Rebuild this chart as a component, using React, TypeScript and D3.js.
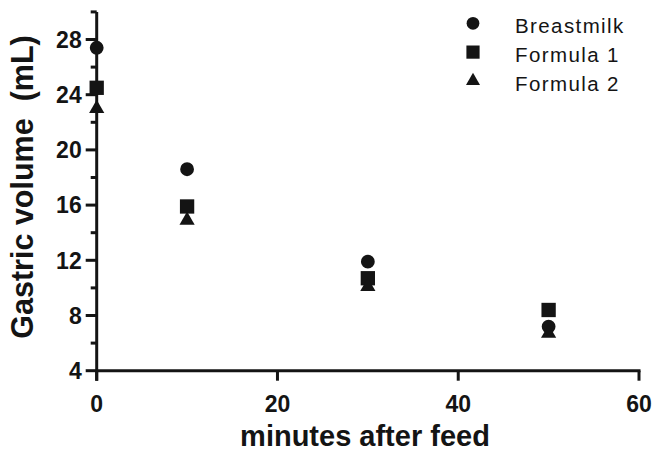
import React from "react";
import * as d3 from "d3";

// minutes after feed
const times = [0, 10, 30, 50];
const breastmilk = [27.4, 18.6, 11.9, 7.2];
const formula1 = [24.5, 15.9, 10.7, 8.4];
const formula2 = [23.0, 14.9, 10.1, 6.7];

const xTicks = [0, 20, 40, 60];
const yTicks = [4, 8, 12, 16, 20, 24, 28];
const yMinorTicks = [6, 10, 14, 18, 22, 26, 30];

const series = [
  { name: "Breastmilk", values: breastmilk, symbol: d3.symbolCircle, size: 150 },
  { name: "Formula 1", values: formula1, symbol: d3.symbolSquare, size: 205 },
  { name: "Formula 2", values: formula2, symbol: d3.symbolTriangle, size: 100 },
];

const width = 654;
const height = 452;
const ink = "#141414";
const font = "'Liberation Sans', Arial, Helvetica, sans-serif";

const App: React.FC = () => {
  const x = d3.scaleLinear().domain([0, 60]).range([96.7, 639]);
  const y = d3.scaleLinear().domain([4, 30]).range([370.7, 11.9]);

  const x0 = x(0);
  const y0 = y(4);

  return (
    <svg
      width={width}
      height={height}
      style={{ position: "absolute", left: 0, top: 0, background: "white" }}
    >
      {/* y axis */}
      <line x1={x0} x2={x0} y1={y(30)} y2={y0 + 10} stroke={ink} strokeWidth={3} />
      {yTicks.map((t) => (
        <g key={`yt-${t}`}>
          <line x1={x0 - 11} x2={x0} y1={y(t)} y2={y(t)} stroke={ink} strokeWidth={3} />
          <text
            x={x0 - 15}
            y={y(t)}
            dy="0.36em"
            textAnchor="end"
            fontFamily={font}
            fontWeight="bold"
            fontSize={23}
            fill={ink}
          >
            {t}
          </text>
        </g>
      ))}
      {yMinorTicks.map((t) => (
        <line
          key={`ym-${t}`}
          x1={x0 - 6}
          x2={x0}
          y1={y(t)}
          y2={y(t)}
          stroke={ink}
          strokeWidth={3}
        />
      ))}

      {/* x axis */}
      <line x1={x0} x2={x(60) + 1.5} y1={y0} y2={y0} stroke={ink} strokeWidth={3} />
      {xTicks.map((t) => (
        <g key={`xt-${t}`}>
          <line x1={x(t)} x2={x(t)} y1={y0} y2={y0 + 10} stroke={ink} strokeWidth={3} />
          <text
            x={x(t)}
            y={411.7}
            textAnchor="middle"
            fontFamily={font}
            fontWeight="bold"
            fontSize={23}
            fill={ink}
          >
            {t}
          </text>
        </g>
      ))}

      {/* axis titles */}
      <text
        x={365}
        y={446}
        textAnchor="middle"
        fontFamily={font}
        fontWeight="bold"
        fontSize={29}
        fill={ink}
      >
        minutes after feed
      </text>
      <text
        transform={`translate(33, 187) rotate(-90)`}
        textAnchor="middle"
        fontFamily={font}
        fontWeight="bold"
        fontSize={30.5}
        fill={ink}
        style={{ whiteSpace: "pre" }}
      >
        Gastric volume  (mL)
      </text>

      {/* points */}
      {series.map((s) =>
        s.values.map((v, i) => (
          <path
            key={`${s.name}-${i}`}
            transform={`translate(${x(times[i])}, ${y(v)})`}
            d={d3.symbol().type(s.symbol).size(s.size)() ?? ""}
            fill={ink}
          />
        ))
      )}

      {/* legend */}
      {series.map((s, i) => (
        <g key={`lg-${s.name}`} transform={`translate(473, ${23.3 + i * 28.8})`}>
          <path d={d3.symbol().type(s.symbol).size(s.size * 0.85)() ?? ""} fill={ink} />
          <text
            x={42}
            y={10}
            fontFamily={font}
            fontSize={20.5}
            letterSpacing={1.4}
            fill={ink}
          >
            {s.name}
          </text>
        </g>
      ))}
    </svg>
  );
};

export default App;
